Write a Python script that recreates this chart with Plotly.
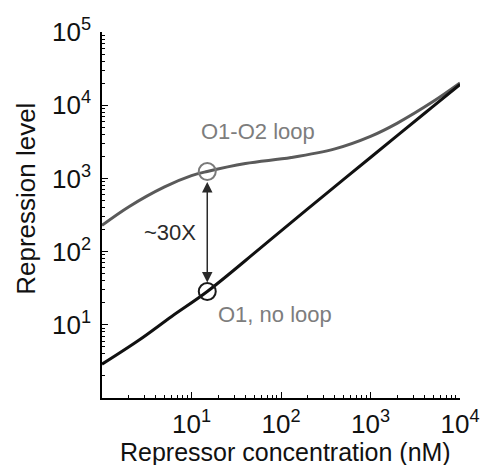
import numpy as np
import plotly.graph_objects as go

# ---- data ----
no_loop_x = [1, 2.6, 6, 15, 57, 194, 505, 2100, 4850, 10000]
no_loop_y = [2.9, 6.2, 13, 28.5, 108, 375, 975, 4050, 9350, 19200]

loop_x = [1, 2, 5, 10, 15, 40, 130, 400, 1000, 2000, 5000, 10000]
loop_y = [228, 410, 765, 1090, 1245, 1600, 1930, 2530, 3750, 5700, 11200, 20100]

marker_x = [15]
marker_loop_y = [1245]
marker_noloop_y = [28.5]

x_tickvals = [10, 100, 1000, 10000]
x_ticktext = ["10<sup>1</sup>", "10<sup>2</sup>", "10<sup>3</sup>", "10<sup>4</sup>"]
y_tickvals = [10, 100, 1000, 10000, 100000]
y_ticktext = ["10<sup>1</sup>", "10<sup>2</sup>", "10<sup>3</sup>", "10<sup>4</sup>", "10<sup>5</sup>"]

fold_label = "~30X"
loop_label = "O1-O2 loop"
noloop_label = "O1, no loop"
x_title = "Repressor concentration (nM)"
y_title = "Repression level"

FONT = "Liberation Sans, Arial, Helvetica, sans-serif"
GRAY_LINE = "#5a5a5a"
GRAY_TEXT = "#7d7d7d"

fig = go.Figure()
fig.add_trace(go.Scatter(x=loop_x, y=loop_y, mode="lines",
                         line=dict(color=GRAY_LINE, width=3, shape="spline", smoothing=1.0),
                         hoverinfo="skip", showlegend=False))
fig.add_trace(go.Scatter(x=no_loop_x, y=no_loop_y, mode="lines",
                         line=dict(color="#111111", width=3, shape="spline", smoothing=1.0),
                         hoverinfo="skip", showlegend=False))
fig.add_trace(go.Scatter(x=marker_x, y=marker_loop_y, mode="markers",
                         marker=dict(symbol="circle-open", size=17, color="#7a7a7a",
                                     line=dict(width=2, color="#7a7a7a")),
                         showlegend=False))
fig.add_trace(go.Scatter(x=marker_x, y=marker_noloop_y, mode="markers",
                         marker=dict(symbol="circle-open", size=17, color="#1a1a1a",
                                     line=dict(width=2, color="#1a1a1a")),
                         showlegend=False))

minor_x = [m * 10 ** k for k in range(0, 4) for m in range(2, 10)]
minor_y = [m * 10 ** k for k in range(0, 5) for m in range(2, 10)]

axis_common = dict(type="log", showgrid=False, zeroline=False, showline=True,
                   linecolor="black", linewidth=1.5, ticks="inside", ticklen=6,
                   tickwidth=1, tickcolor="black", mirror=False,
                   tickfont=dict(family=FONT, size=26, color="#111111"))

fig.update_xaxes(range=[0, 4], tickvals=x_tickvals, ticktext=x_ticktext,
                 minor=dict(tickvals=minor_x, ticks="inside", ticklen=3, tickcolor="black", showgrid=False),
                 ticklabelstandoff=2, **axis_common)
fig.update_yaxes(range=[0, 5], tickvals=y_tickvals, ticktext=y_ticktext,
                 minor=dict(tickvals=minor_y, ticks="inside", ticklen=3, tickcolor="black", showgrid=False),
                 ticklabelstandoff=4, **axis_common)

ann = []
# double-headed arrow between the two circles
ann.append(dict(x=np.log10(marker_x[0]), y=np.log10(marker_noloop_y[0]),
                ax=np.log10(marker_x[0]), ay=np.log10(marker_loop_y[0]),
                xref="x", yref="y", axref="x", ayref="y", text="",
                showarrow=True, arrowside="end+start", arrowhead=2, startarrowhead=2,
                arrowsize=1.4, startarrowsize=1.4, arrowwidth=1.5, arrowcolor="#2a2a2a",
                standoff=9, startstandoff=9))
ann.append(dict(x=0.189, y=0.452, xref="paper", yref="paper", text=fold_label,
                showarrow=False, xanchor="center", yanchor="middle",
                font=dict(family=FONT, size=22, color="#2a2a2a")))
ann.append(dict(x=0.4346, y=0.7295, xref="paper", yref="paper", text=loop_label,
                showarrow=False, xanchor="center", yanchor="middle",
                font=dict(family=FONT, size=22, color=GRAY_TEXT)))
ann.append(dict(x=0.482, y=0.2268, xref="paper", yref="paper", text=noloop_label,
                showarrow=False, xanchor="center", yanchor="middle",
                font=dict(family=FONT, size=22, color=GRAY_TEXT)))
ann.append(dict(x=0.512, y=-0.148, xref="paper", yref="paper", text=x_title,
                showarrow=False, xanchor="center", yanchor="middle",
                font=dict(family=FONT, size=25, color="#111111")))
ann.append(dict(x=-0.2125, y=0.544, xref="paper", yref="paper", text=y_title,
                showarrow=False, xanchor="center", yanchor="middle", textangle=-90,
                font=dict(family=FONT, size=26, color="#111111")))

fig.update_layout(width=492, height=465, margin=dict(l=102, r=23, t=32, b=67),
                  plot_bgcolor="white", paper_bgcolor="white", annotations=ann,
                  font=dict(family=FONT))

fig.write_html("out.html")
